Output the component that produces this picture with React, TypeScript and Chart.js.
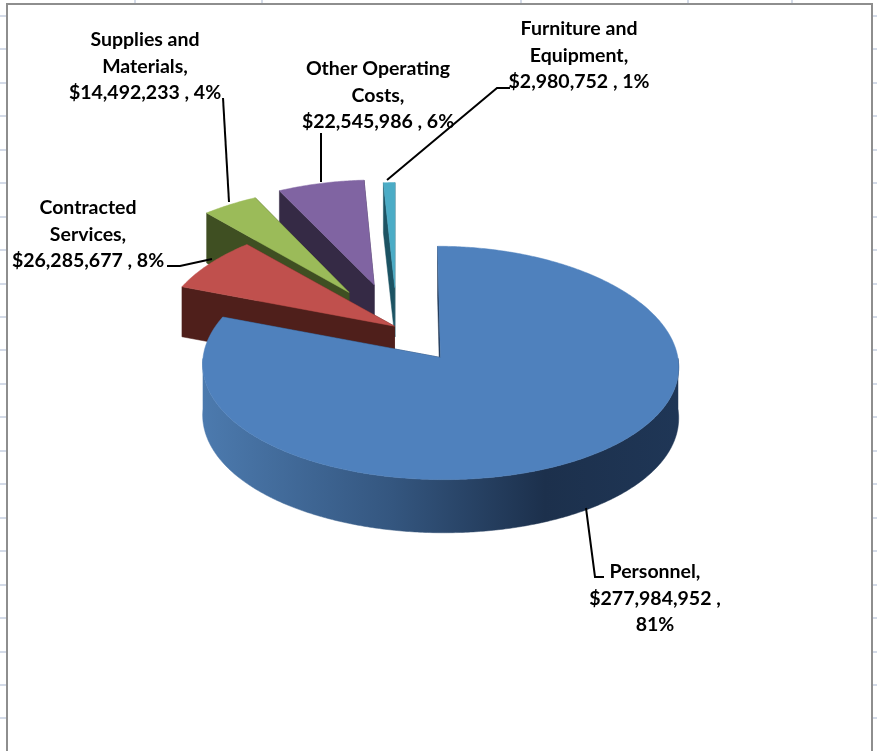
import React, { useEffect, useRef } from "react";
import { Chart, registerables } from "chart.js";

Chart.register(...registerables);

const categories = ["Personnel", "Contracted Services", "Supplies and Materials", "Other Operating Costs", "Furniture and Equipment"];
const amounts = [277984952, 26285677, 14492233, 22545986, 2980752];
const percentLabels = [81, 8, 4, 6, 1];
const explodeOffsets = [75, 3, 87, 91, 82];
const topColors = ["#4F81BD", "#C0504D", "#9BBB59", "#8064A2", "#4BACC6"];
const wallColors = ["#1E3552", "#4F1F1B", "#3F4F22", "#352A45", "#1C5363"];
const rimStops = ["#4C7AAE", "#34567F", "#1C304C", "#1F3656"];

// Wrapped name lines for each slice's caption.
const nameLines = [
  ["Personnel,"],
  ["Contracted", "Services,"],
  ["Supplies and", "Materials,"],
  ["Other Operating", "Costs,"],
  ["Furniture and", "Equipment,"],
];
const labelAnchors = [
  [655, 572],
  [88, 208],
  [145, 40],
  [378, 69],
  [579, 29],
];
const leaderLines = [
  [[586, 508], [595, 577], [604, 577]],
  [[167, 266], [180, 266], [212, 259]],
  [[223, 98], [229, 202]],
  [[321, 133], [321, 182]],
  [[510, 88], [497, 88], [387, 180]],
];

const TILT = 0.4874;
const PERSPECTIVE_Y = 0.0002;
const PERSPECTIVE_X = 0.0003;
const DEPTH = 50;

type Pt = [number, number];

function captionFor(i: number): string[] {
  const money = "$" + amounts[i].toLocaleString("en-US");
  // The largest slice's caption wraps before its percentage.
  return i === 0
    ? [...nameLines[i], money + " ,", percentLabels[i] + "%"]
    : [...nameLines[i], money + " , " + percentLabels[i] + "%"];
}

// Maps a point on the pie's plane to the page, with `h` px of drop for the underside.
function project(cx: number, cy: number, u: number, v: number, h: number): Pt {
  const sx = 1 / (1 - PERSPECTIVE_X * v);
  const sy = 1 / (1 - PERSPECTIVE_Y * v);
  return [cx + u * sx, cy + (TILT * v + h) * sy];
}

function fillPoly(ctx: CanvasRenderingContext2D, pts: Pt[], fill: string | CanvasGradient) {
  ctx.beginPath();
  pts.forEach((p, i) => (i ? ctx.lineTo(p[0], p[1]) : ctx.moveTo(p[0], p[1])));
  ctx.closePath();
  ctx.fillStyle = fill;
  ctx.strokeStyle = fill;
  ctx.lineWidth = 0.5;
  ctx.fill();
  ctx.stroke();
}

const sheetPlugin = {
  id: "sheet",
  beforeDraw(chart: Chart) {
    const { ctx, width, height } = chart;
    ctx.save();
    ctx.fillStyle = "#FFFFFF";
    ctx.fillRect(0, 0, width, height);
    ctx.fillStyle = "#D4DBE8";
    for (let y = 15; y < height; y += 33.45) {
      ctx.fillRect(0, Math.round(y), 6, 2);
      ctx.fillRect(873, Math.round(y), 4, 2);
    }
    for (const x of [134, 261, 520, 687, 791]) ctx.fillRect(x, 0, 2, 3);
    ctx.fillStyle = "#8E8E8E";
    ctx.fillRect(6, 3, 867, 2);
    ctx.fillRect(6, 3, 2, height - 3);
    ctx.fillRect(871, 3, 2, height - 3);
    ctx.restore();
  },
};

// Takes the angles and offsets the pie controller computed and draws each slice as a solid.
const solidPiePlugin = {
  id: "solidPie",
  beforeDatasetsDraw(chart: Chart) {
    const { ctx } = chart;
    const arcs = chart.getDatasetMeta(0).data as any[];
    ctx.save();
    for (let i = arcs.length - 1; i >= 0; i--) {
      const arc = arcs[i];
      const { x, y, startAngle, endAngle, outerRadius } = arc;
      const mid = (startAngle + endAngle) / 2;
      const d = arc.options.offset;
      const ou = Math.cos(mid) * d;
      const ov = Math.sin(mid) * d;
      const top: Pt[] = [];
      const rim: Pt[] = [];
      const rimLow: Pt[] = [];
      const steps = Math.max(2, Math.ceil((endAngle - startAngle) / 0.01));
      for (let n = 0; n <= steps; n++) {
        const a = startAngle + ((endAngle - startAngle) * n) / steps;
        const u = ou + Math.cos(a) * outerRadius;
        const v = ov + Math.sin(a) * outerRadius;
        top.push(project(x, y, u, v, 0));
        if (Math.sin(a) >= 0) {
          rim.push(project(x, y, u, v, 0));
          rimLow.push(project(x, y, u, v, DEPTH));
        }
      }
      const apex = project(x, y, ou, ov, 0);
      const apexLow = project(x, y, ou, ov, DEPTH);
      const first = top[0];
      const last = top[top.length - 1];
      const drop = (p: Pt): Pt => [p[0], p[1] + DEPTH];
      fillPoly(ctx, [apex, last, drop(last), apexLow], wallColors[i]);
      fillPoly(ctx, [apex, first, drop(first), apexLow], wallColors[i]);
      if (rim.length > 1) {
        const g = ctx.createLinearGradient(rim[rim.length - 1][0], 0, rim[0][0], 0);
        rimStops.forEach((c, n) => g.addColorStop([0, 0.4, 0.72, 1][n], c));
        fillPoly(ctx, [...rim, ...rimLow.slice().reverse()], g);
      }
      fillPoly(ctx, [apex, ...top], topColors[i]);
    }
    ctx.restore();
    return false;
  },
  afterDraw(chart: Chart) {
    const { ctx } = chart;
    ctx.save();
    ctx.strokeStyle = "#000000";
    ctx.lineWidth = 2;
    for (const line of leaderLines) {
      ctx.beginPath();
      line.forEach((p, i) => (i ? ctx.lineTo(p[0], p[1]) : ctx.moveTo(p[0], p[1])));
      ctx.stroke();
    }
    ctx.fillStyle = "#000000";
    ctx.font = "bold 19.5px Lato";
    ctx.textAlign = "center";
    ctx.textBaseline = "middle";
    categories.forEach((_, i) => {
      captionFor(i).forEach((t, n) => ctx.fillText(t, labelAnchors[i][0], labelAnchors[i][1] + n * 26.5));
    });
    ctx.restore();
  },
};

export default function App() {
  const ref = useRef<HTMLCanvasElement>(null);
  useEffect(() => {
    document.body.style.margin = "0";
    const chart = new Chart(ref.current!, {
      type: "pie",
      data: {
        labels: categories,
        datasets: [{ data: amounts, backgroundColor: topColors, offset: explodeOffsets, borderWidth: 0 }],
      },
      options: {
        animation: false,
        responsive: false,
        events: [],
        radius: 233,
        layout: { padding: { right: 83, bottom: 97 } },
        plugins: {
          legend: { display: false },
          tooltip: { enabled: false },
          title: { display: false },
        },
      } as any,
      plugins: [sheetPlugin, solidPiePlugin],
    });
    return () => chart.destroy();
  }, []);
  return <canvas ref={ref} width={877} height={751} style={{ display: "block" }} />;
}
